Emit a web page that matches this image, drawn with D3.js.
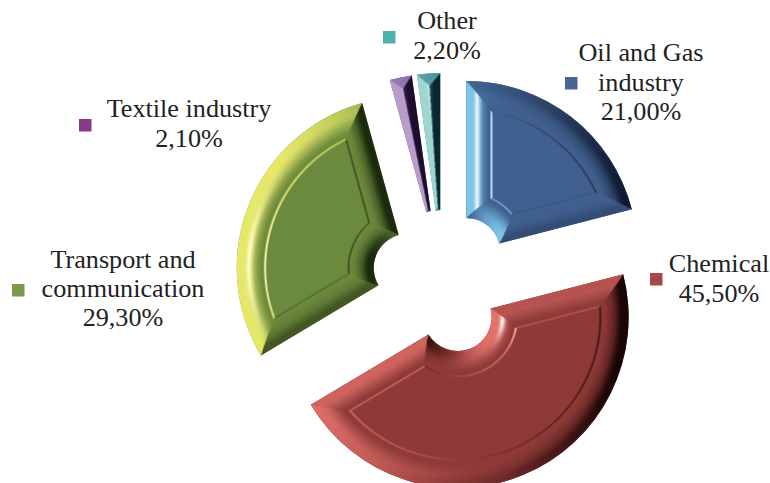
<!DOCTYPE html>
<html>
<head>
<meta charset="utf-8">
<style>
  html, body { margin: 0; padding: 0; background: #fff; }
  svg { display: block; }
  text { font-family: "Liberation Serif", "Times New Roman", serif; font-size: 26.2px; fill: #222; text-anchor: middle; }
</style>
<script src="https://cdn.jsdelivr.net/npm/d3@7/dist/d3.min.js"></script>
</head>
<body>
<svg id="chart" width="770" height="483"></svg>
<script>
// Industry shares, in percent
const categories = ["Oil and Gas industry", "Chemical", "Transport and communication", "Textile industry", "Other"];
const shares = [21.0, 45.5, 29.3, 2.1, 2.2];

// Label wording, one entry per line
const labelLines = [["Oil and Gas", "industry"], ["Chemical"], ["Transport and", "communication"], ["Textile industry"], ["Other"]];

// Legend placement: text centre, text baselines, marker corner
const labelCentreX = [641, 719, 123, 189, 447];
const labelBaselines = [[61, 90.5, 120], [272, 302], [268, 297, 326], [117, 147], [29, 59]];
const markerCorners = [[565, 77], [650, 273], [12, 284], [79, 119], [383, 31]];
const markerSize = 12.5;

// Colour ramps of the bevelled surfaces: shadow, flat face, lit slope, highlight
const markerColors = ["#4a6594", "#a6484a", "#7b9a4a", "#8a3a8a", "#4fb0ae"];
const shadowColors = ["#0f1830", "#1a0404", "#1c2a0c", "#1a0e2c", "#0b2630"];
const faceColors = ["#41608f", "#8e3a38", "#6c8a3e", "#7a5a9a", "#3b8c98"];
const litColors = ["#7cc4ea", "#e0706a", "#e6e86a", "#b89ccb", "#9dd6cf"];
const glintColors = ["#e6f6ff", "#fff0ee", "#fdfdc0", "#e6d8f0", "#e0f6f2"];

// Pie geometry
const cx = 443, cy = 282, outerR = 171, innerR = 34, explode = 38;
const bevel = 24, outerBevelScale = 24 / 27, grooveWidth = 2.4;
const tiltMax = 58 * Math.PI / 180;

const svg = d3.select("#chart");
const pie = d3.pie().sort(null).value(d => d);
const arcs = pie(shares);
const arcPath = d3.arc().innerRadius(innerR).outerRadius(outerR);

// Light comes from the left, slightly above the surface plane
const norm = v => { const l = Math.hypot(...v); return v.map(c => c / l); };
const light = norm([-0.85, -0.05, 0.52]);
const halfway = norm([light[0], light[1], light[2] + 1]);
const restI = light[2];
const smooth = (a, b, x) => { const t = Math.max(0, Math.min(1, (x - a) / (b - a))); return t * t * (3 - 2 * t); };

// Slope angle across a bevel: steep at the rim (u = 0), easing into the flat face (u = 1)
function tiltAt(u) {
  return tiltMax * (1 - smooth(0.0, 1.0, u)) * (0.82 + 0.18 * Math.sin(Math.PI * Math.min(1, u * 2)));
}

// Per-pixel relief of one wedge, painted into a canvas in slice-local coordinates
function reliefImage(arc, i) {
  const ss = 2, half = outerR + 2, size = Math.ceil(half * 2 * ss);
  const canvas = document.createElement("canvas");
  canvas.width = canvas.height = size;
  const ctx = canvas.getContext("2d");
  const img = ctx.createImageData(size, size);
  const a0 = arc.startAngle, a1 = arc.endAngle;
  const n0 = [Math.cos(a0), Math.sin(a0)], n1 = [Math.cos(a1), Math.sin(a1)];
  const rgb = [shadowColors, faceColors, litColors, glintColors].map(c => d3.rgb(c[i]));
  const mix = (p, q, t) => [p.r + (q.r - p.r) * t, p.g + (q.g - p.g) * t, p.b + (q.b - p.b) * t];
  for (let py = 0; py < size; py++) {
    for (let px = 0; px < size; px++) {
      const x = (px + 0.5) / ss - half, y = (py + 0.5) / ss - half;
      const r = Math.hypot(x, y) || 1e-6;
      const dO = (outerR - r) * outerBevelScale, dI = r - innerR;
      const dS = x * n0[0] + y * n0[1], dE = -(x * n1[0] + y * n1[1]);
      // Nearest edge decides which mitred bevel this pixel belongs to
      let d = dO, tx = x / r, ty = y / r;
      if (dI < d) { d = dI; tx = -x / r; ty = -y / r; }
      if (dS < d) { d = dS; tx = -n0[0]; ty = -n0[1]; }
      if (dE < d) { d = dE; tx = n1[0]; ty = n1[1]; }
      let tilt = 0;
      if (d < bevel) tilt = tiltAt(d / bevel);
      else if (d < bevel + grooveWidth) {
        // Thin groove that outlines the flat face: pale where it meets the light, dark elsewhere
        tilt = 0.62 * Math.sin(Math.PI * (d - bevel) / grooveWidth);
      }
      const sn = Math.sin(tilt), cs = Math.cos(tilt);
      const N = [tx * sn, ty * sn, cs];
      // Soft fill lifts the slopes that face up or down
      const I = N[0] * light[0] + N[1] * light[1] + N[2] * light[2] + 0.26 * Math.abs(sn) * ty * ty;
      const spec = Math.pow(Math.max(0, N[0] * halfway[0] + N[1] * halfway[1] + N[2] * halfway[2]), 60) * smooth(0.05, 0.3, Math.abs(tilt));
      let c = I < restI
        ? mix(rgb[1], rgb[0], Math.min(1, (restI - I) / (restI + 0.3)))
        : mix(rgb[1], rgb[2], Math.min(1, (I - restI) / 0.42));
      const s = Math.min(1, spec * 1.05);
      c = [c[0] + (rgb[3].r - c[0]) * s, c[1] + (rgb[3].g - c[1]) * s, c[2] + (rgb[3].b - c[2]) * s];
      const k = (py * size + px) * 4;
      img.data[k] = c[0]; img.data[k + 1] = c[1]; img.data[k + 2] = c[2]; img.data[k + 3] = 255;
    }
  }
  ctx.putImageData(img, 0, 0);
  return { href: canvas.toDataURL("image/png"), half };
}

// Exploded wedges: a flat arc plus its relief clipped to the same arc
const defs = svg.append("defs");
arcs.forEach((arc, i) => {
  const mid = (arc.startAngle + arc.endAngle) / 2;
  const g = svg.append("g")
    .attr("class", "slice")
    .attr("transform", `translate(${cx + explode * Math.sin(mid)},${cy - explode * Math.cos(mid)})`);
  const d = arcPath(arc);
  defs.append("clipPath").attr("id", `wedge-${i}`).append("path").attr("d", d);
  g.append("path").attr("d", d).attr("fill", faceColors[i]);
  const relief = reliefImage(arc, i);
  g.append("image")
    .attr("href", relief.href)
    .attr("x", -relief.half).attr("y", -relief.half)
    .attr("width", relief.half * 2).attr("height", relief.half * 2)
    .attr("clip-path", `url(#wedge-${i})`);
});

// Legend markers and labels, with the share written with a decimal comma
const percent = v => v.toFixed(2).replace(".", ",") + "%";
categories.forEach((name, i) => {
  svg.append("rect")
    .attr("x", markerCorners[i][0]).attr("y", markerCorners[i][1])
    .attr("width", markerSize).attr("height", markerSize)
    .attr("fill", markerColors[i]);
  const lines = [...labelLines[i], percent(shares[i])];
  const label = svg.append("text").attr("class", "label");
  lines.forEach((line, j) => {
    label.append("tspan")
      .attr("x", labelCentreX[i]).attr("y", labelBaselines[i][j])
      .text(line);
  });
});
</script>
</body>
</html>
